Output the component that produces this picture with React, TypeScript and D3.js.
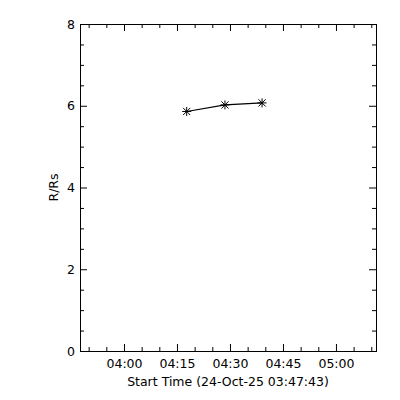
import { useEffect, useRef } from "react";
import * as d3 from "d3";

// observation times (UTC) and heights in solar radii
const times = ["2025-10-24T04:17:45Z", "2025-10-24T04:28:35Z", "2025-10-24T04:39:05Z"];
const heights = [5.86, 6.02, 6.07];
const yTicks = [0, 2, 4, 6, 8];
const xLabel = "Start Time (24-Oct-25 03:47:43)";
const yLabel = "R/Rs";
const xStart = "2025-10-24T03:47:33Z";
const xEnd = "2025-10-24T05:11:20Z";

export default function App() {
  const ref = useRef<SVGSVGElement>(null);

  useEffect(() => {
    const W = 400;
    const H = 400;
    const margin = { top: 24, right: 24, bottom: 49, left: 80 };
    const width = W - margin.left - margin.right;
    const height = H - margin.top - margin.bottom;
    const font = "'DejaVu Sans', sans-serif";

    const svg = d3.select(ref.current);
    svg.selectAll("*").remove();

    const g = svg.append("g").attr("transform", `translate(${margin.left},${margin.top})`);

    const x = d3.scaleUtc().domain([new Date(xStart), new Date(xEnd)]).range([0, width]);
    const y = d3.scaleLinear().domain([0, 8]).range([height, 0]);

    const majorX = x.ticks(d3.utcMinute.every(15)!);
    const minorX = x.ticks(d3.utcMinute.every(5)!).filter((t) => t.getUTCMinutes() % 15 !== 0);
    const minorY = d3.range(0, 8.01, 0.5).filter((v) => v % 2 !== 0);
    const fmt = d3.utcFormat("%H:%M");

    const style = (sel: any) => {
      sel.select(".domain").remove();
      sel.selectAll("line").attr("stroke", "#000");
      sel.selectAll("text").attr("font-family", font).attr("font-size", 12.5).attr("fill", "#000");
    };

    // bottom + top (major / minor)
    g.append("g").attr("transform", `translate(0,${height})`)
      .call(d3.axisBottom(x).tickValues(majorX).tickFormat((d: any) => fmt(d)).tickSize(-7).tickPadding(8))
      .call(style);
    g.append("g").attr("transform", `translate(0,${height})`)
      .call(d3.axisBottom(x).tickValues(minorX).tickFormat(() => "").tickSize(-4))
      .call(style);
    g.append("g")
      .call(d3.axisTop(x).tickValues(majorX).tickFormat(() => "").tickSize(-7))
      .call(style);
    g.append("g")
      .call(d3.axisTop(x).tickValues(minorX).tickFormat(() => "").tickSize(-4))
      .call(style);

    // left + right
    g.append("g")
      .call(d3.axisLeft(y).tickValues(yTicks).tickFormat(d3.format("d")).tickSize(-7).tickPadding(5))
      .call(style);
    g.append("g")
      .call(d3.axisLeft(y).tickValues(minorY).tickFormat(() => "").tickSize(-4))
      .call(style);
    g.append("g").attr("transform", `translate(${width},0)`)
      .call(d3.axisRight(y).tickValues(yTicks).tickFormat(() => "").tickSize(-7))
      .call(style);
    g.append("g").attr("transform", `translate(${width},0)`)
      .call(d3.axisRight(y).tickValues(minorY).tickFormat(() => "").tickSize(-4))
      .call(style);

    // frame
    g.append("rect")
      .attr("x", 0.5).attr("y", 0.5)
      .attr("width", width).attr("height", height)
      .attr("fill", "none").attr("stroke", "#000");

    // data line
    const pts = times.map((t, i) => [x(new Date(t)), y(heights[i])] as [number, number]);
    g.append("path")
      .attr("d", d3.line()(pts))
      .attr("fill", "none").attr("stroke", "#000").attr("stroke-width", 1.2);

    // asterisk markers
    const s = 4.5;
    const star = g.append("g").attr("stroke", "#000").attr("stroke-width", 1);
    pts.forEach(([px, py]) => {
      star.append("path").attr(
        "d",
        `M${px - s},${py}L${px + s},${py}M${px},${py - s}L${px},${py + s}` +
          `M${px - s * 0.8},${py - s * 0.8}L${px + s * 0.8},${py + s * 0.8}` +
          `M${px - s * 0.8},${py + s * 0.8}L${px + s * 0.8},${py - s * 0.8}`
      );
    });

    // axis titles
    svg.append("text")
      .attr("x", margin.left + width / 2).attr("y", 386)
      .attr("text-anchor", "middle")
      .attr("font-family", font).attr("font-size", 12.5)
      .text(xLabel);
    svg.append("text")
      .attr("transform", `translate(58,${margin.top + height / 2}) rotate(-90)`)
      .attr("text-anchor", "middle")
      .attr("font-family", font).attr("font-size", 12.5)
      .text(yLabel);
  }, []);

  return (
    <svg
      ref={ref}
      width={400}
      height={400}
      style={{ position: "absolute", left: 0, top: 0, background: "#fff" }}
    />
  );
}
